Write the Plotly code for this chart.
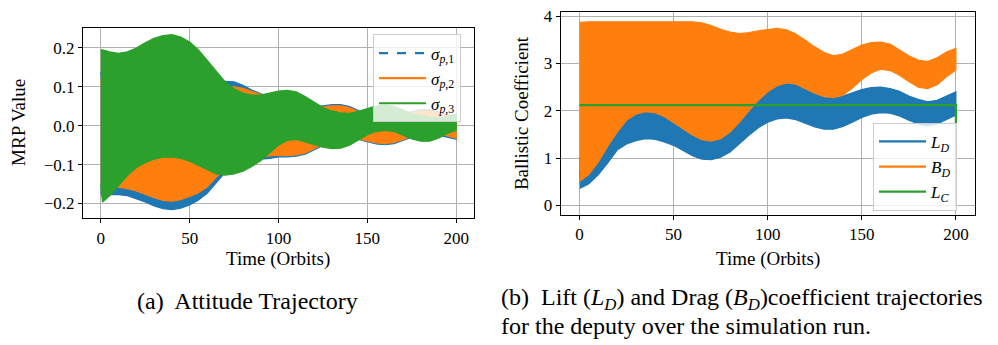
import plotly.graph_objects as go

# ---------------- Data: (a) Attitude trajectory (MRP envelopes) ----------------
T_A = [0, 1, 5, 10, 15, 20, 25, 30, 35, 40, 45, 50, 55, 60, 65, 70, 75, 80, 85, 90, 95,
       100, 105, 110, 115, 120, 125, 130, 135, 140, 145, 150, 155, 160, 165, 170, 175,
       180, 185, 190, 195, 200]

SIG1_UP = [0.138, 0.11, 0.095, 0.092, 0.09, 0.089, 0.088, 0.088, 0.088, 0.09, 0.093, 0.097,
           0.101, 0.106, 0.111, 0.114, 0.113, 0.104, 0.092, 0.083, 0.073, 0.063, 0.054, 0.049,
           0.047, 0.048, 0.051, 0.054, 0.054, 0.049, 0.039, 0.027, 0.018, 0.015, 0.019, 0.027,
           0.036, 0.041, 0.041, 0.036, 0.028, 0.021]
SIG1_LO = [-0.17, -0.185, -0.177, -0.177, -0.18, -0.187, -0.196, -0.206, -0.213, -0.216,
           -0.212, -0.204, -0.191, -0.173, -0.146, -0.12, -0.1, -0.09, -0.086, -0.086, -0.084,
           -0.08, -0.08, -0.078, -0.073, -0.063, -0.051, -0.04, -0.033, -0.031, -0.035, -0.041,
           -0.047, -0.049, -0.046, -0.039, -0.029, -0.021, -0.019, -0.023, -0.029, -0.035]

SIG2_UP = [0.12, 0.1, 0.09, 0.088, 0.086, 0.085, 0.084, 0.083, 0.083, 0.084, 0.086, 0.089,
           0.092, 0.096, 0.099, 0.1, 0.1, 0.096, 0.089, 0.08, 0.07, 0.06, 0.051, 0.046, 0.044,
           0.045, 0.048, 0.051, 0.051, 0.046, 0.036, 0.024, 0.015, 0.012, 0.016, 0.024, 0.033,
           0.038, 0.038, 0.033, 0.025, 0.018]
SIG2_LO = [-0.15, -0.152, -0.155, -0.158, -0.162, -0.168, -0.176, -0.185, -0.192, -0.194,
           -0.19, -0.182, -0.172, -0.157, -0.132, -0.11, -0.095, -0.085, -0.081, -0.08, -0.078,
           -0.076, -0.077, -0.075, -0.07, -0.06, -0.048, -0.037, -0.03, -0.028, -0.032, -0.038,
           -0.044, -0.046, -0.043, -0.036, -0.026, -0.018, -0.016, -0.02, -0.026, -0.032]

SIG3_UP = [0.195, 0.195, 0.19, 0.186, 0.19, 0.2, 0.213, 0.225, 0.232, 0.234, 0.228, 0.215,
           0.195, 0.168, 0.14, 0.113, 0.095, 0.084, 0.079, 0.079, 0.084, 0.089, 0.091, 0.087,
           0.075, 0.06, 0.047, 0.038, 0.033, 0.032, 0.037, 0.044, 0.051, 0.053, 0.05, 0.041,
           0.032, 0.026, 0.022, 0.02, 0.023, 0.03]
SIG3_LO = [-0.15, -0.196, -0.18, -0.155, -0.128, -0.108, -0.095, -0.086, -0.081, -0.08,
           -0.084, -0.091, -0.101, -0.113, -0.124, -0.127, -0.124, -0.117, -0.105, -0.09, -0.07,
           -0.05, -0.038, -0.035, -0.04, -0.048, -0.055, -0.059, -0.058, -0.05, -0.036, -0.023,
           -0.015, -0.012, -0.015, -0.024, -0.034, -0.04, -0.04, -0.032, -0.02, -0.012]

# ---------------- Data: (b) Lift / drag coefficient envelopes ----------------
T_B = [0, 0.5, 5, 10, 15, 20, 25, 30, 35, 40, 45, 50, 55, 60, 65, 70, 75, 80, 85, 90, 95,
       100, 105, 110, 115, 120, 125, 130, 135, 140, 145, 150, 155, 160, 165, 170, 175,
       180, 185, 190, 195, 200]

LD_UP = [1.01, 1.0, 0.9, 1.1, 1.4, 1.7, 1.9, 2.0, 2.05, 2.02, 1.95, 1.83, 1.7, 1.58, 1.48,
         1.45, 1.5, 1.65, 1.85, 2.05, 2.25, 2.4, 2.53, 2.59, 2.55, 2.46, 2.36, 2.29, 2.27,
         2.31, 2.38, 2.45, 2.49, 2.5, 2.47, 2.41, 2.31, 2.24, 2.19, 2.22, 2.31, 2.4]
LD_LO = [0.73, 0.37, 0.46, 0.65, 0.9, 1.17, 1.3, 1.37, 1.41, 1.4, 1.34, 1.27, 1.16, 1.05,
         0.98, 0.97, 1.02, 1.13, 1.3, 1.48, 1.64, 1.76, 1.83, 1.85, 1.81, 1.74, 1.66, 1.61,
         1.61, 1.67, 1.76, 1.86, 1.93, 1.96, 1.95, 1.89, 1.8, 1.72, 1.68, 1.72, 1.82, 1.91]

BD_UP = [3.86, 3.87, 3.88, 3.88, 3.885, 3.89, 3.89, 3.89, 3.89, 3.89, 3.89, 3.89, 3.885,
         3.88, 3.86, 3.8, 3.72, 3.66, 3.63, 3.65, 3.69, 3.72, 3.74, 3.71, 3.62, 3.49, 3.35,
         3.23, 3.16, 3.2, 3.3, 3.39, 3.44, 3.45, 3.41, 3.29, 3.16, 3.07, 3.04, 3.12, 3.24,
         3.32]
BD_LO = [0.53, 0.52, 0.66, 0.92, 1.25, 1.55, 1.8, 1.93, 1.98, 1.96, 1.88, 1.76, 1.62, 1.49,
         1.39, 1.36, 1.41, 1.55, 1.76, 2.0, 2.22, 2.4, 2.53, 2.59, 2.56, 2.47, 2.37, 2.3, 2.28,
         2.33, 2.48, 2.66, 2.8, 2.88, 2.85, 2.75, 2.62, 2.5, 2.47, 2.55, 2.72, 2.86]

T_LC = [0, 200, 200]
LC = [2.12, 2.12, 0.0]

# ---------------- Tick labels ----------------
X_TICKS = [0, 50, 100, 150, 200]
YA_TICKS = [-0.2, -0.1, 0.0, 0.1, 0.2]
YA_TEXT = ["\u22120.2", "\u22120.1", "0.0", "0.1", "0.2"]
YB_TICKS = [0, 1, 2, 3, 4]

BLUE, ORANGE, GREEN = "#1f77b4", "#ff7f0e", "#2ca02c"
SERIF = "Liberation Serif"

fig = go.Figure()


def band(t, up, lo, color, xa, ya):
    fig.add_trace(go.Scatter(
        x=list(t) + list(t)[::-1], y=list(up) + list(lo)[::-1],
        fill="toself", fillcolor=color, mode="lines",
        line=dict(color=color, width=1.2), showlegend=False, hoverinfo="skip",
        xaxis=xa, yaxis=ya))


band(T_A, SIG1_UP, SIG1_LO, BLUE, "x", "y")
band(T_A, SIG2_UP, SIG2_LO, ORANGE, "x", "y")
band(T_A, SIG3_UP, SIG3_LO, GREEN, "x", "y")

band(T_B, LD_UP, LD_LO, BLUE, "x2", "y2")
band(T_B, BD_UP, BD_LO, ORANGE, "x2", "y2")
fig.add_trace(go.Scatter(x=T_LC, y=LC, mode="lines", line=dict(color=GREEN, width=2.2),
                         showlegend=False, hoverinfo="skip", xaxis="x2", yaxis="y2"))

# legend entries
leg_a = [("<i>σ</i><sub><i>p</i>,1</sub>", BLUE, "dash"),
         ("<i>σ</i><sub><i>p</i>,2</sub>", ORANGE, "solid"),
         ("<i>σ</i><sub><i>p</i>,3</sub>", GREEN, "solid")]
for name, c, d in leg_a:
    fig.add_trace(go.Scatter(x=[None], y=[None], mode="lines", name=name,
                             line=dict(color=c, width=2.2, dash=d), legend="legend",
                             xaxis="x", yaxis="y"))
leg_b = [("<i>L</i><sub><i>D</i></sub>", BLUE), ("<i>B</i><sub><i>D</i></sub>", ORANGE),
         ("<i>L</i><sub><i>C</i></sub>", GREEN)]
for name, c in leg_b:
    fig.add_trace(go.Scatter(x=[None], y=[None], mode="lines", name=name,
                             line=dict(color=c, width=2.2), legend="legend2",
                             xaxis="x2", yaxis="y2"))

W, H = 998, 345


def px_x(p):
    return p / W


def px_y(p):
    return 1 - p / H


axis_common = dict(showline=True, mirror=True, linecolor="black", linewidth=1,
                   ticks="outside", ticklen=4, tickwidth=1, tickcolor="black",
                   showgrid=True, gridcolor="#b0b0b0", gridwidth=1, zeroline=False,
                   tickfont=dict(family=SERIF, size=17, color="black"))

legend_common = dict(xanchor="left", yanchor="top", bgcolor="rgba(255,255,255,0.8)",
                     bordercolor="#cccccc", borderwidth=1, itemwidth=47,
                     font=dict(family=SERIF, size=17, color="black"))

fig.update_layout(
    width=W, height=H, margin=dict(l=0, r=0, t=0, b=0),
    paper_bgcolor="white", plot_bgcolor="white",
    font=dict(family=SERIF, color="black"),
    xaxis=dict(domain=[px_x(83), px_x(474)], range=[-10, 210], tickvals=X_TICKS,
               anchor="y", **axis_common),
    yaxis=dict(domain=[px_y(217), px_y(23)], range=[-0.2379, 0.2523], tickvals=YA_TICKS,
               ticktext=YA_TEXT, anchor="x", **axis_common),
    xaxis2=dict(domain=[px_x(560.7), px_x(974.7)], range=[-10, 210], tickvals=X_TICKS,
                anchor="y2", **axis_common),
    yaxis2=dict(domain=[px_y(213.3), px_y(7.3)], range=[-0.193, 4.083], tickvals=YB_TICKS,
                anchor="x2", **axis_common),
    legend=dict(x=px_x(373), y=px_y(30), **legend_common),
    legend2=dict(x=px_x(873), y=px_y(120), **legend_common),
    showlegend=True,
)

ann = []
ann.append(dict(text="Time (Orbits)", x=px_x(278), y=px_y(259), xref="paper", yref="paper",
                showarrow=False, xanchor="center", yanchor="middle",
                font=dict(family=SERIF, size=19, color="black")))
ann.append(dict(text="Time (Orbits)", x=px_x(768), y=px_y(258), xref="paper", yref="paper",
                showarrow=False, xanchor="center", yanchor="middle",
                font=dict(family=SERIF, size=19, color="black")))
ann.append(dict(text="MRP Value", x=px_x(19), y=px_y(120), xref="paper", yref="paper",
                showarrow=False, xanchor="center", yanchor="middle", textangle=-90,
                font=dict(family=SERIF, size=19, color="black")))
ann.append(dict(text="Ballistic Coefficient", x=px_x(521), y=px_y(110), xref="paper",
                yref="paper", showarrow=False, xanchor="center", yanchor="middle",
                textangle=-90, font=dict(family=SERIF, size=19, color="black")))
ann.append(dict(text="(a)  Attitude Trajectory", x=px_x(247), y=px_y(301), xref="paper",
                yref="paper", showarrow=False, xanchor="center", yanchor="middle",
                font=dict(family=SERIF, size=24, color="black")))
ann.append(dict(text="(b)  Lift (<i>L</i><sub><i>D</i></sub>) and Drag (<i>B</i><sub><i>D</i></sub>)coefficient trajectories",
                x=px_x(499), y=px_y(299), xref="paper", yref="paper", showarrow=False,
                xanchor="left", yanchor="middle",
                font=dict(family=SERIF, size=24, color="black")))
ann.append(dict(text="for the deputy over the simulation run.", x=px_x(499), y=px_y(327),
                xref="paper", yref="paper", showarrow=False, xanchor="left",
                yanchor="middle", font=dict(family=SERIF, size=24, color="black")))
fig.update_layout(annotations=ann)

fig.write_html("out.html", config={"displayModeBar": False},
               post_script="document.body.style.margin='0';document.body.style.padding='0';")
